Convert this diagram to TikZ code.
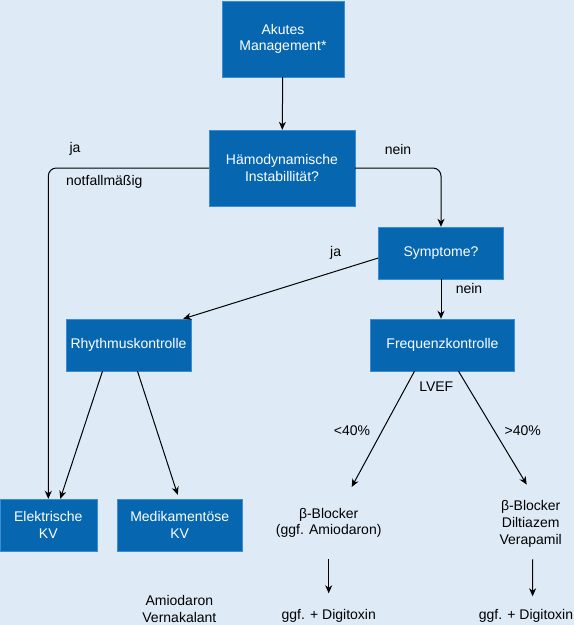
\documentclass[tikz,border=0pt]{standalone}
\usepackage{fontspec}
\setmainfont{Liberation Sans}
\usetikzlibrary{arrows.meta}
\definecolor{bgblue}{HTML}{DEEBF7}
\definecolor{boxblue}{HTML}{0667B0}
\definecolor{boxline}{HTML}{3D8CD2}
\begin{document}
\begin{tikzpicture}[x=1pt,y=-1pt,
  font=\fontsize{14}{16.7}\selectfont,
  box/.style={draw=boxline,fill=boxblue,text=white,align=center,inner sep=0pt,minimum height=52pt},
  txt/.style={align=center,inner sep=0pt},
  arr/.style={-{Stealth[length=8pt,width=7pt,inset=2.5pt]},line width=1pt}]
  \useasboundingbox (0,0) rectangle (574,625);
  \fill[bgblue] (0,0) rectangle (574,625);
  \node[box,minimum width=122pt,minimum height=76pt] (akut) at (283,39) {Akutes\\Management*};
  \node[box,minimum width=146pt,minimum height=76pt] (haemo) at (282,168) {Hämodynamische\\Instabillität?};
  \node[box,minimum width=125pt] (sympt) at (441,253) {Symptome?};
  \node[box,minimum width=125pt] (rhythm) at (128.5,345) {Rhythmuskontrolle};
  \node[box,minimum width=144pt] (freq) at (442.5,345) {Frequenzkontrolle};
  \node[box,minimum width=97pt] (ekv) at (48.3,525) {Elektrische\\KV};
  \node[box,minimum width=125pt] (mkv) at (179.7,525) {Medikamentöse\\KV};
  \node[txt] (bl1) at (328.7,523) {β-Blocker\\(ggf. Amiodaron)};
  \node[txt] (bl2) at (530.7,524) {β-Blocker\\Diltiazem\\Verapamil};
  \node[txt] (dg1) at (328.7,616) {ggf. + Digitoxin};
  \node[txt] (dg2) at (526,616) {ggf. + Digitoxin};
  \node[txt] (amio) at (179.4,609) {Amiodaron\\Vernakalant};
  \node[txt] (ja1) at (75,149) {ja};
  \node[txt] (notf) at (104.3,182) {notfallmäßig};
  \node[txt] (nein1) at (398,149) {nein};
  \node[txt] (ja2) at (335.6,253) {ja};
  \node[txt] (nein2) at (469,288) {nein};
  \node[txt] (lvef) at (436.3,387) {LVEF};
  \node[txt] (lt40) at (352,431) {<40\%};
  \node[txt] (gt40) at (522.7,431) {>40\%};
  \draw[arr] (akut) -- (haemo);
  \draw[arr,rounded corners=8pt] (haemo.west) -| (ekv.north);
  \draw[arr,rounded corners=8pt] (haemo.east) -| (sympt.north);
  \draw[arr] ([yshift=-5pt]sympt.west) -- ([xshift=-8pt]rhythm.north east);
  \draw[arr] (sympt) -- (sympt |- freq.north);
  \draw[arr] ([xshift=-26pt]rhythm.south) -- ([xshift=12pt]ekv.north);
  \draw[arr] ([xshift=9pt]rhythm.south) -- ([xshift=-2pt,yshift=4pt]mkv.north);
  \draw[arr] ([xshift=-28pt]freq.south) -- ([xshift=23pt,yshift=21pt]bl1.north);
  \draw[arr] ([xshift=16pt]freq.south) -- ([xshift=-4pt,yshift=16pt]bl2.north);
  \draw[arr] ([yshift=-21pt]bl1.south) -- ([yshift=16pt]dg1.north);
  \draw[arr] ([xshift=2pt,yshift=-12pt]bl2.south) -- ([xshift=6.6pt,yshift=13pt]dg2.north);
\end{tikzpicture}
\end{document}
